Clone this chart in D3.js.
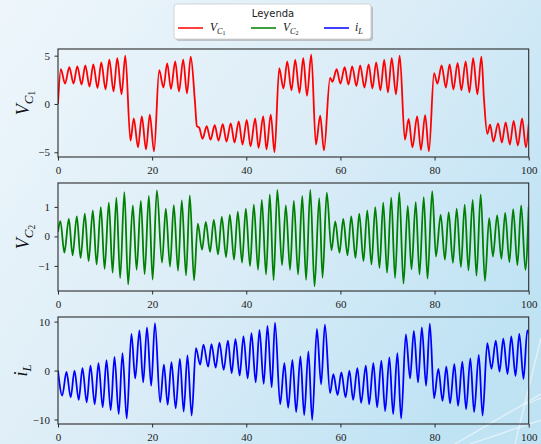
<!DOCTYPE html>
<html><head><meta charset="utf-8">
<script src="https://cdn.jsdelivr.net/npm/d3@7"></script>
<style>
html,body{margin:0;padding:0;overflow:hidden;}
svg{display:block;}
</style></head>
<body>
<svg id="chart" width="541" height="444"></svg>
<script>
// ---- data (extrema) ----
const xTicks = [0, 20, 40, 60, 80, 100];
const vc1Ticks = [-5, 0, 5];
const vc2Ticks = [-1, 0, 1];
const iLTicks = [-10, 0, 10];

const tVC1 = [0,0.6,1.5,2.4,3.3,4.1,5.0,5.8,6.7,7.5,8.4,9.2,10.1,10.9,11.8,12.6,13.5,14.3,15.4,16.1,17.0,17.8,18.7,19.5,20.4,21.5,22.4,23.2,24.0,24.9,25.7,26.6,27.4,28.2,29.1,29.5,30.0,30.7,31.6,32.4,33.3,34.1,35.0,35.8,36.7,37.5,38.4,39.2,40.1,40.9,41.9,42.6,43.6,44.3,45.2,46.0,47.0,47.9,48.7,49.6,50.4,51.3,52.1,52.9,53.8,54.8,55.7,56.5,57.8,58.3,59.2,60.0,60.9,61.7,62.5,63.4,64.2,65.1,66.0,66.8,67.6,68.5,69.3,70.1,70.9,71.8,72.6,73.7,74.5,75.3,76.3,77.1,78.0,78.8,79.9,80.6,81.5,82.4,83.2,84.0,84.9,85.7,86.6,87.4,88.2,89.1,89.95,90.5,91.2,91.8,92.5,93.5,94.3,95.1,96.0,96.8,97.7,98.6,99.4,100];
const vVC1 = [0,3.6,2.1,3.8,2.1,3.9,2.0,4.0,1.8,4.1,1.65,4.3,1.5,4.6,1.3,4.75,1.0,5.0,-3.8,-1.5,-4.5,-1.3,-4.7,-1.1,-4.9,3.5,1.7,4.2,1.55,4.4,1.3,4.6,1.1,4.9,0.2,-2.3,-2.45,-3.6,-2.3,-3.7,-2.2,-3.8,-2.1,-3.9,-2.0,-4.0,-1.8,-4.2,-1.65,-4.4,-1.5,-4.55,-1.3,-4.7,-1.1,-5.0,3.7,1.6,4.4,1.4,4.55,1.15,4.75,0.85,5.1,-4.2,-1.2,-4.8,2.7,2.3,3.6,2.1,3.8,2.0,3.9,1.85,4.0,1.7,4.1,1.6,4.3,1.4,4.55,1.2,4.75,1.0,5.0,-3.7,-1.55,-4.5,-1.3,-4.75,-1.15,-4.9,3.2,2.1,4.0,1.7,4.1,1.5,4.25,1.4,4.4,1.2,4.75,1.0,4.9,0.5,-3.1,-2.15,-3.9,-2.0,-4.0,-1.9,-4.2,-1.75,-4.3,-1.5,-4.5,-2.1];

const tVC2 = [0,0.5,1.35,2.3,3.1,4.0,4.8,5.7,6.5,7.4,8.2,9.1,9.9,10.8,11.6,12.4,13.2,14.1,14.9,15.9,16.7,17.6,18.4,19.3,20.1,21.0,22.1,22.9,23.8,24.6,25.5,26.3,27.2,28.0,28.9,29.7,30.6,31.4,32.3,33.1,34.0,34.8,35.7,36.5,37.4,38.2,39.1,39.9,40.8,41.6,42.5,43.3,44.2,45.0,45.8,46.6,47.6,48.4,49.3,50.1,51.0,51.9,52.7,53.6,54.5,55.5,56.2,57.1,58.1,58.9,59.8,60.6,61.5,62.3,63.2,64.0,64.9,65.7,66.6,67.4,68.3,69.1,69.9,70.8,71.6,72.5,73.4,74.3,75.1,76.0,76.8,77.7,78.5,79.5,80.3,81.3,82.2,83.0,83.9,84.7,85.6,86.4,87.2,88.1,88.9,89.8,90.7,91.6,92.4,93.3,94.2,95.0,95.9,96.7,97.6,98.4,99.3,100];
const vVC2 = [0.15,0.52,-0.55,0.59,-0.64,0.68,-0.73,0.77,-0.84,0.88,-0.95,0.99,-1.1,1.14,-1.23,1.31,-1.41,1.5,-1.63,1.05,-1.13,1.2,-1.28,1.37,-1.46,1.56,-0.89,0.94,-1.02,1.06,-1.16,1.22,-1.32,1.39,-1.49,0.43,-0.45,0.49,-0.52,0.56,-0.61,0.66,-0.70,0.73,-0.79,0.84,-0.89,0.94,-1.01,1.08,-1.13,1.24,-1.29,1.42,-1.48,1.58,-0.98,1.05,-1.13,1.2,-1.29,1.37,-1.47,1.58,-1.69,1.3,-1.4,1.48,-0.47,0.51,-0.55,0.59,-0.64,0.68,-0.73,0.77,-0.84,0.88,-0.95,0.99,-1.07,1.14,-1.23,1.31,-1.41,1.49,-1.6,1.03,-1.12,1.16,-1.29,1.33,-1.43,1.53,-0.68,0.73,-0.79,0.82,-0.9,0.94,-1.04,1.08,-1.15,1.24,-1.33,1.42,-1.51,0.62,-0.68,0.71,-0.76,0.8,-0.87,0.92,-0.98,1.05,-1.13,1.0];

const tIL = [0,0.9,1.8,2.7,3.5,4.4,5.2,6.1,6.9,7.8,8.6,9.5,10.3,11.2,12.0,12.9,13.7,14.6,15.6,16.4,17.3,18.1,18.9,19.8,20.6,21.7,22.5,23.3,24.1,25.0,25.9,26.7,27.5,28.4,29.3,30.2,30.9,31.9,32.6,33.5,34.3,35.2,36.1,36.9,37.7,38.6,39.4,40.3,41.1,42.0,42.8,43.7,44.5,45.4,46.1,47.2,48.1,48.9,49.8,50.6,51.5,52.3,53.2,54.0,55.0,55.9,56.7,57.8,58.5,59.4,60.2,61.1,61.9,62.7,63.6,64.4,65.4,66.1,67.0,67.8,68.7,69.5,70.4,71.2,72.1,72.9,73.9,74.8,75.6,76.5,77.3,78.2,79.0,79.9,80.8,81.7,82.5,83.3,84.2,85.0,85.9,86.7,87.6,88.4,89.4,90.2,91.2,92.1,93.0,93.8,94.6,95.5,96.3,97.2,98.0,98.9,99.7,100];
const vIL = [0,-5.1,-0.3,-5.5,0,-6.0,0.5,-6.5,1.0,-6.9,1.5,-7.5,2.1,-8.1,2.8,-8.9,3.55,-9.8,7.5,-1.6,8.2,-2.4,8.8,-3.1,9.7,-6.5,1.2,-7.0,1.7,-7.7,2.4,-8.4,3.1,-9.2,4.6,1.2,5.3,0.8,5.4,0.6,5.7,0.15,6.1,-0.5,6.4,-1.0,7.0,-1.6,7.65,-2.4,8.3,-2.7,9.1,-3.4,9.8,-6.9,1.5,-7.6,2.2,-8.5,2.9,-9.1,3.9,-10.1,8.5,-2.8,9.4,-4.6,-0.75,-5.0,-0.4,-5.5,0,-6.0,0.5,-6.6,1.0,-6.9,1.5,-7.5,2.0,-8.3,2.7,-8.9,3.55,-9.8,7.4,-1.6,8.1,-2.4,8.8,-3.1,9.6,-5.7,0.35,-6.2,0.8,-6.7,1.3,-7.2,1.8,-7.9,2.5,-8.5,3.2,-9.2,5.6,0.35,6.1,-0.2,6.5,-0.7,7.0,-1.1,7.5,-1.7,8.2,7.6];

const seriesNames = ["V_C1", "V_C2", "i_L"];
const seriesColors = ["#ff0000", "#008000", "#0000ff"];

// ---- drawing ----
const svg = d3.select("#chart");
const W = 541, H = 444;
const defs = svg.append("defs");
const grad = defs.append("linearGradient").attr("id","bg").attr("x1","0").attr("y1","0").attr("x2","1").attr("y2","0.6");
grad.append("stop").attr("offset","0").attr("stop-color","#eef6fb");
grad.append("stop").attr("offset","0.55").attr("stop-color","#dcedf7");
grad.append("stop").attr("offset","1").attr("stop-color","#c0e3f4");
svg.append("rect").attr("width",W).attr("height",H).attr("fill","url(#bg)");

// decorative white lines bottom-right
const deco = [[455,444,541,394],[515,444,541,338],[526,404,541,398],[470,444,541,420]];
svg.selectAll("line.deco").data(deco).enter().append("line")
  .attr("x1",d=>d[0]).attr("y1",d=>d[1]).attr("x2",d=>d[2]).attr("y2",d=>d[3])
  .attr("stroke","#ffffff").attr("stroke-opacity",0.55).attr("stroke-width",1.3);

const left = 58, right = 528.7;
const x = d3.scaleLinear().domain([0,100]).range([left,right]);

const panels = [
  {t:tVC1, v:vVC1, top:49, h:108, dom:[-5.49,5.69], ticks:vc1Ticks, color:seriesColors[0], label:["V","C","1"]},
  {t:tVC2, v:vVC2, top:183, h:108, dom:[-1.85,1.81], ticks:vc2Ticks, color:seriesColors[1], label:["V","C","2"]},
  {t:tIL,  v:vIL,  top:317, h:107, dom:[-10.92,10.94], ticks:iLTicks, color:seriesColors[2], label:["i","L",null]}
];

const serif = "'Liberation Serif','DejaVu Serif',serif";

function mathLabel(g, parts, size) {
  const t = g.append("text").style("font-family", serif).attr("fill","#111");
  t.append("tspan").attr("font-style","italic").attr("font-size", size).text(parts[0]);
  t.append("tspan").attr("font-style","italic").attr("font-size", size*0.72).attr("dy", size*0.22).text(parts[1]);
  if (parts[2]) t.append("tspan").attr("font-size", size*0.52).attr("dy", size*0.12).text(parts[2]);
  return t;
}

panels.forEach((p,i) => {
  const y = d3.scaleLinear().domain(p.dom).range([p.top + p.h, p.top]);
  const g = svg.append("g");
  const cid = "clip"+i;
  defs.append("clipPath").attr("id",cid).append("rect")
    .attr("x",left).attr("y",p.top).attr("width",right-left).attr("height",p.h);
  const pts = p.t.map((tt,k)=>[tt,p.v[k]]);
  const line = d3.line().x(d=>x(d[0])).y(d=>y(d[1])).curve(d3.curveMonotoneX);
  g.append("path").datum(pts).attr("d",line).attr("fill","none")
    .attr("stroke",p.color).attr("stroke-width",1.8).attr("stroke-linejoin","round")
    .attr("clip-path","url(#"+cid+")");

  // frame
  g.append("rect").attr("x",left).attr("y",p.top).attr("width",right-left).attr("height",p.h)
    .attr("fill","none").attr("stroke","#2b2b2b").attr("stroke-width",1.1);

  const xa = g.append("g").attr("transform",`translate(0,${p.top+p.h})`)
    .call(d3.axisBottom(x).tickValues(xTicks).tickSize(3.5).tickPadding(6).tickFormat(d3.format("d")));
  const ya = g.append("g").attr("transform",`translate(${left},0)`)
    .call(d3.axisLeft(y).tickValues(p.ticks).tickSize(3.5).tickPadding(4.5).tickFormat(d=> d<0 ? "\u2212"+Math.abs(d) : String(d)));
  [xa,ya].forEach(a=>{
    a.attr("font-family", null).attr("font-size", null);
    a.select(".domain").remove();
    a.selectAll("line").attr("stroke","#2b2b2b");
    a.selectAll("text").style("font-family",serif).style("font-size","11px").attr("fill","#222");
  });

  const lg = g.append("g").attr("transform",`translate(${i===2?27:29},${p.top+p.h/2}) rotate(-90)`);
  const lt = mathLabel(lg, p.label, 18);
  lt.attr("text-anchor","middle");
});

// legend
const lgd = svg.append("g");
lgd.append("rect").attr("x",176).attr("y",6).attr("width",197).attr("height",35).attr("rx",3)
  .attr("fill","#9a9a9a").attr("opacity",0.55);
lgd.append("rect").attr("x",174).attr("y",4).attr("width",197).attr("height",35).attr("rx",3)
  .attr("fill","#ffffff").attr("stroke","#cccccc").attr("stroke-width",0.8);
lgd.append("text").attr("x",273).attr("y",17).attr("text-anchor","middle")
  .style("font-family","'DejaVu Sans',sans-serif").attr("font-size",10).attr("fill","#222").text("Leyenda");
const entries = [
  {x:178, color:seriesColors[0], parts:["V","C","1"]},
  {x:251, color:seriesColors[1], parts:["V","C","2"]},
  {x:324, color:seriesColors[2], parts:["i","L",null]}
];
entries.forEach(e=>{
  lgd.append("line").attr("x1",e.x).attr("x2",e.x+25).attr("y1",28).attr("y2",28)
    .attr("stroke",e.color).attr("stroke-width",1.5);
  const g = lgd.append("g").attr("transform",`translate(${e.x+(e.parts[0]==="i"?31:32)},31)`);
  mathLabel(g, e.parts, 11.5);
});
</script>
</body></html>
